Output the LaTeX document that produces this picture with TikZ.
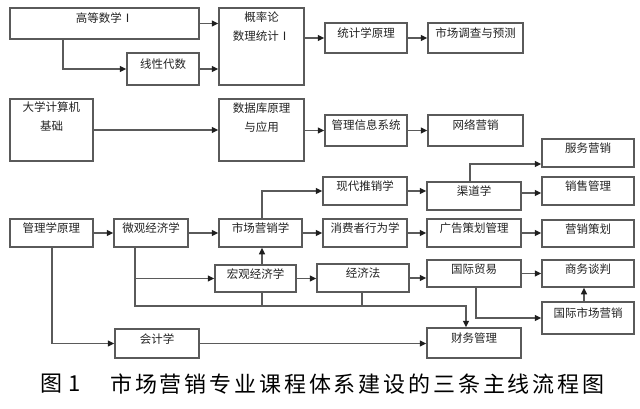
\documentclass[tikz,border=0pt]{standalone}
\usepackage{fontspec}
\setmainfont{Noto Sans CJK SC}
\newfontfamily\capfont[LetterSpace=13]{Noto Sans CJK SC}
\usetikzlibrary{arrows.meta}
\definecolor{lc}{RGB}{90,90,90}
\definecolor{tc}{RGB}{35,35,35}
\definecolor{ac}{RGB}{30,30,30}
\tikzset{
  box/.style={draw=lc, line width=1.5pt, inner sep=0pt, text=tc,
    text height=8.5pt, text depth=9.5pt, font=\fontsize{11.5}{14}\selectfont},
  tallbox/.style={draw=lc, line width=1.5pt, inner sep=0pt, text=tc},
  inlab/.style={anchor=north, align=center, inner sep=0pt, text=tc,
    font=\fontsize{11.5}{19}\selectfont},
  conn/.style={draw=lc, line width=1.5pt},
  arr/.style={conn, -{Triangle[length=6.5pt,width=6pt,color=ac]}},
}
\begin{document}
\begin{tikzpicture}[x=1pt,y=-1pt]
\useasboundingbox[fill=white] (0,0) rectangle (640,409);
% row 1
\node[box, minimum width=189, minimum height=31] (gs) at (104.5,23.5) {高等数学Ⅰ};
\node[box, minimum width=72, minimum height=32] (xx) at (163,69) {线性代数};
\node[tallbox, minimum width=85, minimum height=77,
  label={[inlab, yshift=-4pt]north:概率论\\数理统计Ⅰ}] (gl) at (261.5,46.5) {};
\node[box, minimum width=82, minimum height=30] (tj) at (366,38) {统计学原理};
\node[box, minimum width=95, minimum height=30] (sc) at (475.5,38) {市场调查与预测};
% row 2
\node[tallbox, minimum width=83, minimum height=62,
  label={[inlab, yshift=-3pt]north:大学计算机\\基础}] (dx) at (51.5,130) {};
\node[tallbox, minimum width=85, minimum height=62,
  label={[inlab, yshift=-4pt]north:数据库原理\\与应用}] (sj) at (261.5,130) {};
\node[box, minimum width=82, minimum height=31] (gx) at (366,130.5) {管理信息系统};
\node[box, minimum width=95, minimum height=31] (wl) at (475.5,130.5) {网络营销};
% row 3
\node[box, minimum width=92, minimum height=28] (fw) at (588,153) {服务营销};
\node[box, minimum width=84, minimum height=28] (xd) at (365,191) {现代推销学};
\node[box, minimum width=94, minimum height=28] (qd) at (474,196) {渠道学};
\node[box, minimum width=92, minimum height=28] (xs) at (588,191) {销售管理};
\node[box, minimum width=83, minimum height=28] (gl2) at (51.5,233) {管理学原理};
\node[box, minimum width=74, minimum height=28] (wg) at (151,233) {微观经济学};
\node[box, minimum width=83, minimum height=28] (yx) at (260.5,233) {市场营销学};
\node[box, minimum width=84, minimum height=28] (xf) at (365,233) {消费者行为学};
\node[box, minimum width=94, minimum height=28] (gg) at (474,233) {广告策划管理};
\node[box, minimum width=92, minimum height=27] (ch) at (588,233.5) {营销策划};
\node[box, minimum width=81, minimum height=27] (hg) at (255.5,278.5) {宏观经济学};
\node[box, minimum width=92, minimum height=28] (jj) at (363,278) {经济法};
\node[box, minimum width=94, minimum height=27] (gm) at (474,273.5) {国际贸易};
\node[box, minimum width=92, minimum height=27] (sw) at (588,273.5) {商务谈判};
\node[box, minimum width=92, minimum height=32] (gs2) at (588,318) {国际市场营销};
\node[box, minimum width=84, minimum height=29] (kj) at (157,343.5) {会计学};
\node[box, minimum width=94, minimum height=30] (cw) at (474,343) {财务管理};
% connectors line 1
\draw[arr] (gs.east) -- (gs.east -| gl.west);
\draw[arr] (gs.south -| 63,0) |- (xx.west);
\draw[arr] (xx.east) -- (xx.east -| gl.west);
\draw[arr] (tj.west -| gl.east) -- (tj.west);
\draw[arr] (tj.east) -- (sc.west);
% line 2
\draw[arr] (dx.east) -- (dx.east -| sj.west);
\draw[arr] (gx.west -| sj.east) -- (gx.west);
\draw[arr] (gx.east) -- (wl.west);
% line 3
\draw[arr] (gl2.east) -- (wg.west);
\draw[arr] (wg.east) -- (yx.west);
\draw[arr] (yx.north -| 262,0) |- (xd.west);
\draw[arr] (yx.east) -- (yx.east -| xf.west);
\draw[arr] (hg.north -| 262,0) -- (yx.south -| 262,0);
\draw[arr] (wg.south -| 135,0) |- (466,306) -- (cw.north -| 466,0);
\draw[arr] (135,0 |- hg.west) -- (hg.west);
\draw[conn] (hg.south -| 262,0) -- (262,306);
\draw[conn] (jj.south -| 362,0) -- (362,306);
\draw[arr] (hg.east) -- (hg.east -| jj.west);
\draw[arr] (xd.east) -- (xd.east -| qd.west);
\draw[arr] (qd.north -| 470,0) |- (fw.west |- 0,164);
\draw[arr] (qd.east |- 0,193) -- (xs.west |- 0,193);
\draw[arr] (xf.east) -- (xf.east -| gg.west);
\draw[arr] (gg.east) -- (gg.east -| ch.west);
\draw[arr] (jj.east) -- (jj.east -| gm.west);
\draw[arr] (gm.east) -- (gm.east -| sw.west);
\draw[arr] (gs2.north -| 584,0) -- (sw.south -| 584,0);
\draw[arr] (gm.south -| 476,0) |- (gs2.west);
\draw[arr] (gl2.south -| 52,0) |- (kj.west);
\draw[arr] (kj.east) -- (kj.east -| cw.west);
% caption
\node[anchor=west, inner sep=0pt, font=\capfont\fontsize{22}{26}\selectfont] (cap1) at (40,384) {图\hspace{6pt}1};
\node[anchor=west, inner sep=0pt, font=\capfont\fontsize{22}{26}\selectfont] (cap2) at (110,384) {市场营销专业课程体系建设的三条主线流程图};
\end{tikzpicture}
\end{document}
